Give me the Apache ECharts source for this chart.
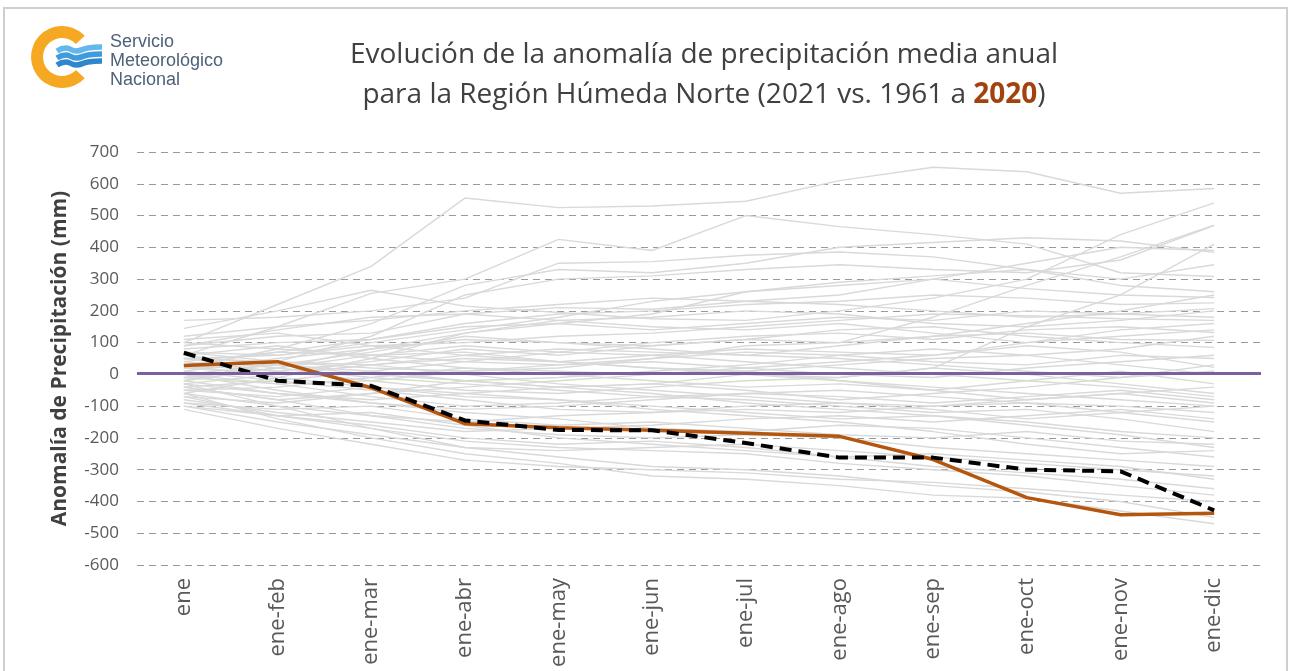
<!DOCTYPE html>
<html>
<head>
<meta charset="utf-8">
<script src="https://cdn.jsdelivr.net/npm/echarts@6/dist/echarts.min.js"></script>
<style>
  html, body { margin: 0; padding: 0; background: #fff; }
  #chart { width: 1293px; height: 671px; }
</style>
</head>
<body>
<div id="chart"></div>
<script>
// periodos acumulados
const months = ['ene', 'ene-feb', 'ene-mar', 'ene-abr', 'ene-may', 'ene-jun',
  'ene-jul', 'ene-ago', 'ene-sep', 'ene-oct', 'ene-nov', 'ene-dic']

const yTicks = { min: -600, max: 700, step: 100 }

// anomalía acumulada 2020 (mm)
const anom2020 = [28, 40, -42, -155, -168, -176, -185, -195, -268, -388, -442, -437]
// anomalía acumulada 2021 (mm)
const anom2021 = [68, -20, -36, -145, -175, -176, -216, -262, -262, -300, -305, -428]
// referencia (media)
const meanLine = 3

// años 1961 a 2019 (estimados del gráfico)
const historical = [
  [100, 220, 340, 555, 525, 530, 545, 610, 652, 638, 570, 585],
  [60, 150, 255, 300, 425, 390, 500, 465, 440, 410, 320, 308],
  [145, 200, 265, 215, 195, 175, 170, 200, 240, 300, 440, 540],
  [-20, 40, 120, 250, 300, 310, 330, 345, 330, 320, 360, 468],
  [170, 180, 200, 240, 350, 355, 375, 385, 370, 330, 300, 345],
  [20, 80, 160, 280, 330, 320, 350, 400, 415, 430, 420, 384],
  [90, 120, 130, 190, 210, 205, 230, 250, 300, 270, 250, 242],
  [-60, -10, 50, 130, 160, 190, 260, 280, 300, 350, 400, 390],
  [-40, -80, -60, -20, -40, -30, 0, -10, 20, 150, 250, 410],
  [30, 10, 40, 80, 60, 90, 110, 100, 180, 280, 370, 470],
  [80, 100, 110, 150, 160, 140, 160, 180, 170, 200, 190, 207],
  [50, 60, 90, 100, 120, 130, 150, 170, 190, 185, 175, 170],
  [40, 70, 60, 90, 70, 100, 120, 130, 110, 140, 150, 132],
  [70, 40, 30, 60, 80, 70, 60, 90, 120, 130, 110, 107],
  [10, 50, 80, 110, 100, 90, 110, 140, 150, 120, 100, 85],
  [-30, 0, 30, 50, 40, 60, 80, 70, 60, 90, 70, 22],
  [100, 80, 60, 40, 30, 50, 70, 60, 40, 30, 60, 50],
  [60, 90, 50, 20, 10, 0, 20, 40, 60, 100, 140, 160],
  [-10, 20, 60, 70, 40, 20, 10, 30, 50, 60, 80, 120],
  [0, -30, -20, 10, 30, 40, 20, 0, -10, 20, 40, 60],
  [20, 30, 0, -20, -10, 10, 30, 60, 80, 60, 30, 0],
  [-50, -40, -10, 20, 0, -20, -40, -30, -50, -20, 10, -30],
  [40, 10, -20, -50, -60, -40, -20, -10, 20, 0, -30, -60],
  [-70, -90, -60, -40, -20, 0, 10, -20, -40, -60, -80, -100],
  [-20, -60, -90, -110, -100, -80, -60, -70, -90, -70, -50, -80],
  [10, -20, -50, -80, -110, -120, -100, -90, -110, -140, -120, -150],
  [-80, -120, -150, -180, -170, -160, -140, -130, -150, -130, -110, -140],
  [-90, -110, -100, -140, -160, -150, -170, -190, -200, -180, -210, -220],
  [-100, -150, -190, -230, -240, -230, -220, -240, -260, -280, -300, -320],
  [-110, -170, -220, -270, -290, -300, -310, -330, -340, -360, -380, -400],
  [-60, -140, -200, -250, -280, -320, -330, -350, -380, -390, -430, -470],
  [-30, -100, -170, -230, -260, -290, -300, -320, -350, -370, -400, -450],
  [-70, -130, -160, -200, -220, -210, -230, -260, -290, -310, -330, -360],
  [-40, -80, -130, -170, -190, -200, -190, -200, -230, -250, -270, -290],
  [0, -50, -90, -120, -140, -170, -180, -160, -170, -200, -230, -260],
  [30, -10, -40, -70, -80, -100, -120, -140, -130, -160, -190, -230],
  [-10, -30, -70, -100, -90, -70, -80, -100, -120, -110, -140, -180],
  [50, 20, -10, -30, -50, -70, -60, -50, -70, -90, -100, -120],
  [-50, -70, -40, -60, -80, -110, -130, -150, -180, -220, -250, -240],
  [20, 0, 30, 0, -30, -50, -70, -90, -100, -90, -120, -100],
  [-30, -60, -80, -60, -40, -30, -50, -80, -60, -40, -10, 30],
  [-60, -100, -130, -150, -130, -120, -110, -120, -100, -80, -60, -40],
  [-90, -130, -170, -210, -230, -240, -250, -280, -300, -320, -350, -380],
  [0, 30, 10, -20, -40, -60, -90, -110, -130, -150, -180, -200],
  [70, 60, 100, 140, 180, 230, 260, 290, 310, 330, 280, 260],
  [120, 150, 170, 200, 220, 240, 230, 220, 200, 180, 190, 180],
  [90, 140, 180, 190, 170, 150, 140, 160, 130, 100, 120, 140],
  [30, 70, 110, 160, 190, 200, 220, 230, 250, 240, 220, 225],
  [-20, 20, 80, 130, 170, 180, 200, 190, 160, 150, 170, 200],
  [50, 40, 20, 10, 20, 50, 90, 100, 120, 160, 200, 250],
  [-40, -20, 10, 40, 70, 60, 40, 20, 0, -20, -40, -70],
  [60, 30, 70, 120, 100, 80, 60, 50, 30, 10, -10, 10],
  [-100, -130, -120, -160, -200, -220, -240, -260, -250, -270, -290, -330],
  [110, 130, 90, 60, 40, 20, 0, -20, -50, -80, -60, -90]
]

const chart = echarts.init(document.getElementById('chart'))

const fontFamily = '"Open Sans", "Noto Sans", sans-serif'

const grayLines = historical.map((values, i) => ({
  name: String(1961 + i),
  type: 'line',
  data: values,
  symbol: 'none',
  silent: true,
  z: 1,
  lineStyle: { color: '#d9d9d9', width: 1.4 },
}))

// logo del SMN (trazo decorativo)
const waveColors = ['#62b8ec', '#3f9bdb', '#2f86cc']
const logo = [
  {
    type: 'sector',
    shape: { cx: 62, cy: 57, r: 31, r0: 19, startAngle: 0.75, endAngle: Math.PI * 2 - 0.75 },
    style: { fill: '#f7a823' },
  },
  ...[49, 56, 63].map((y, i) => ({
    type: 'polyline',
    shape: {
      points: [[57, y + 2], [66, y - 1], [76, y + 2], [88, y - 1], [102, y - 2]],
      smooth: 0.5,
    },
    style: { stroke: waveColors[i], lineWidth: 5.5, fill: 'none' },
  })),
  {
    type: 'text',
    left: 110,
    top: 33,
    style: {
      text: 'Servicio\nMeteorológico\nNacional',
      fill: '#4d6179',
      font: '18px "Liberation Sans", Arial, sans-serif',
      lineHeight: 19,
    },
  },
  {
    type: 'rect',
    shape: { x: 4, y: 8, width: 1283, height: 670 },
    style: { fill: 'none', stroke: '#cfcfcf', lineWidth: 2 },
    silent: true,
  },
]

chart.setOption({
  animation: false,
  title: {
    text: 'Evolución de la anomalía de precipitación media anual\npara la Región Húmeda Norte (2021 vs. 1961 a {y|2020})',
    left: 699,
    top: 30,
    textAlign: 'center',
    textStyle: {
      fontFamily,
      fontSize: 28,
      fontWeight: 'normal',
      color: '#404040',
      lineHeight: 40,
      rich: {
        y: { fontFamily, fontSize: 28, fontWeight: 'bold', color: '#a1420f' },
      },
    },
  },
  graphic: logo,
  grid: { left: 137, right: 32, top: 152, bottom: 106 },
  xAxis: {
    type: 'category',
    data: months,
    boundaryGap: true,
    axisLine: { show: false },
    axisTick: { show: false },
    axisLabel: {
      rotate: 90,
      margin: 13,
      fontFamily,
      fontSize: 22,
      color: '#595959',
    },
  },
  yAxis: {
    type: 'value',
    min: yTicks.min,
    max: yTicks.max,
    interval: yTicks.step,
    name: 'Anomalía de Precipitación (mm)',
    nameLocation: 'middle',
    nameGap: 66,
    nameTextStyle: { fontFamily, fontSize: 21, fontWeight: 'bold', color: '#404040' },
    axisLabel: { fontFamily, fontSize: 17, color: '#595959', margin: 18 },
    axisLine: { show: false },
    axisTick: { show: false },
    splitLine: { lineStyle: { color: '#9a9a9a', type: [7, 5], width: 1 } },
  },
  series: [
    ...grayLines,
    {
      name: '2020',
      type: 'line',
      data: anom2020,
      symbol: 'none',
      z: 3,
      lineStyle: { color: '#b5560f', width: 3.5 },
      markLine: {
        silent: true,
        symbol: 'none',
        label: { show: false },
        lineStyle: { color: '#7a619e', width: 3, type: 'solid' },
        data: [{ yAxis: meanLine }],
      },
    },
    {
      name: '2021',
      type: 'line',
      data: anom2021,
      symbol: 'none',
      z: 4,
      lineStyle: { color: '#000', width: 4, type: [12, 7] },
    },
  ],
})
</script>
</body>
</html>
